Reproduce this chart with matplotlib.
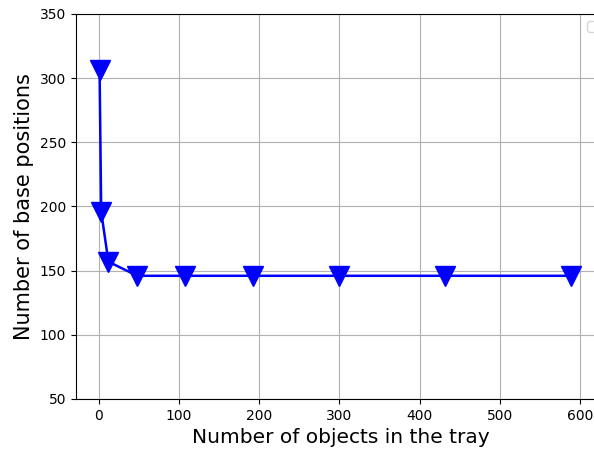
import matplotlib
matplotlib.use("Agg")
from matplotlib import pyplot as plt

# objects in the tray vs. base positions needed
objects = [1, 3, 12, 48, 108, 192, 300, 432, 588]
positions = [306, 196, 157, 146, 146, 146, 146, 146, 146]

fig = plt.figure(figsize=(5.94, 4.54), dpi=100)
# the original axes runs a little past the right edge of the picture
ax = fig.add_axes([76 / 594, 1 - 399 / 454, (605 - 76) / 594, (399 - 14) / 454])

ax.plot(objects, positions, color="blue", marker="v", markersize=14, linewidth=1.8)
ax.set_xlim(-28.4, 631)
ax.set_ylim(50, 350)
ax.set_xlabel("Number of objects in the tray", fontsize=14.5)
ax.set_ylabel("Number of base positions", fontsize=15)
ax.tick_params(labelsize=10)
ax.grid(True)
ax.legend(handles=[], loc="upper right")

fig.savefig("out.png", dpi=100)
